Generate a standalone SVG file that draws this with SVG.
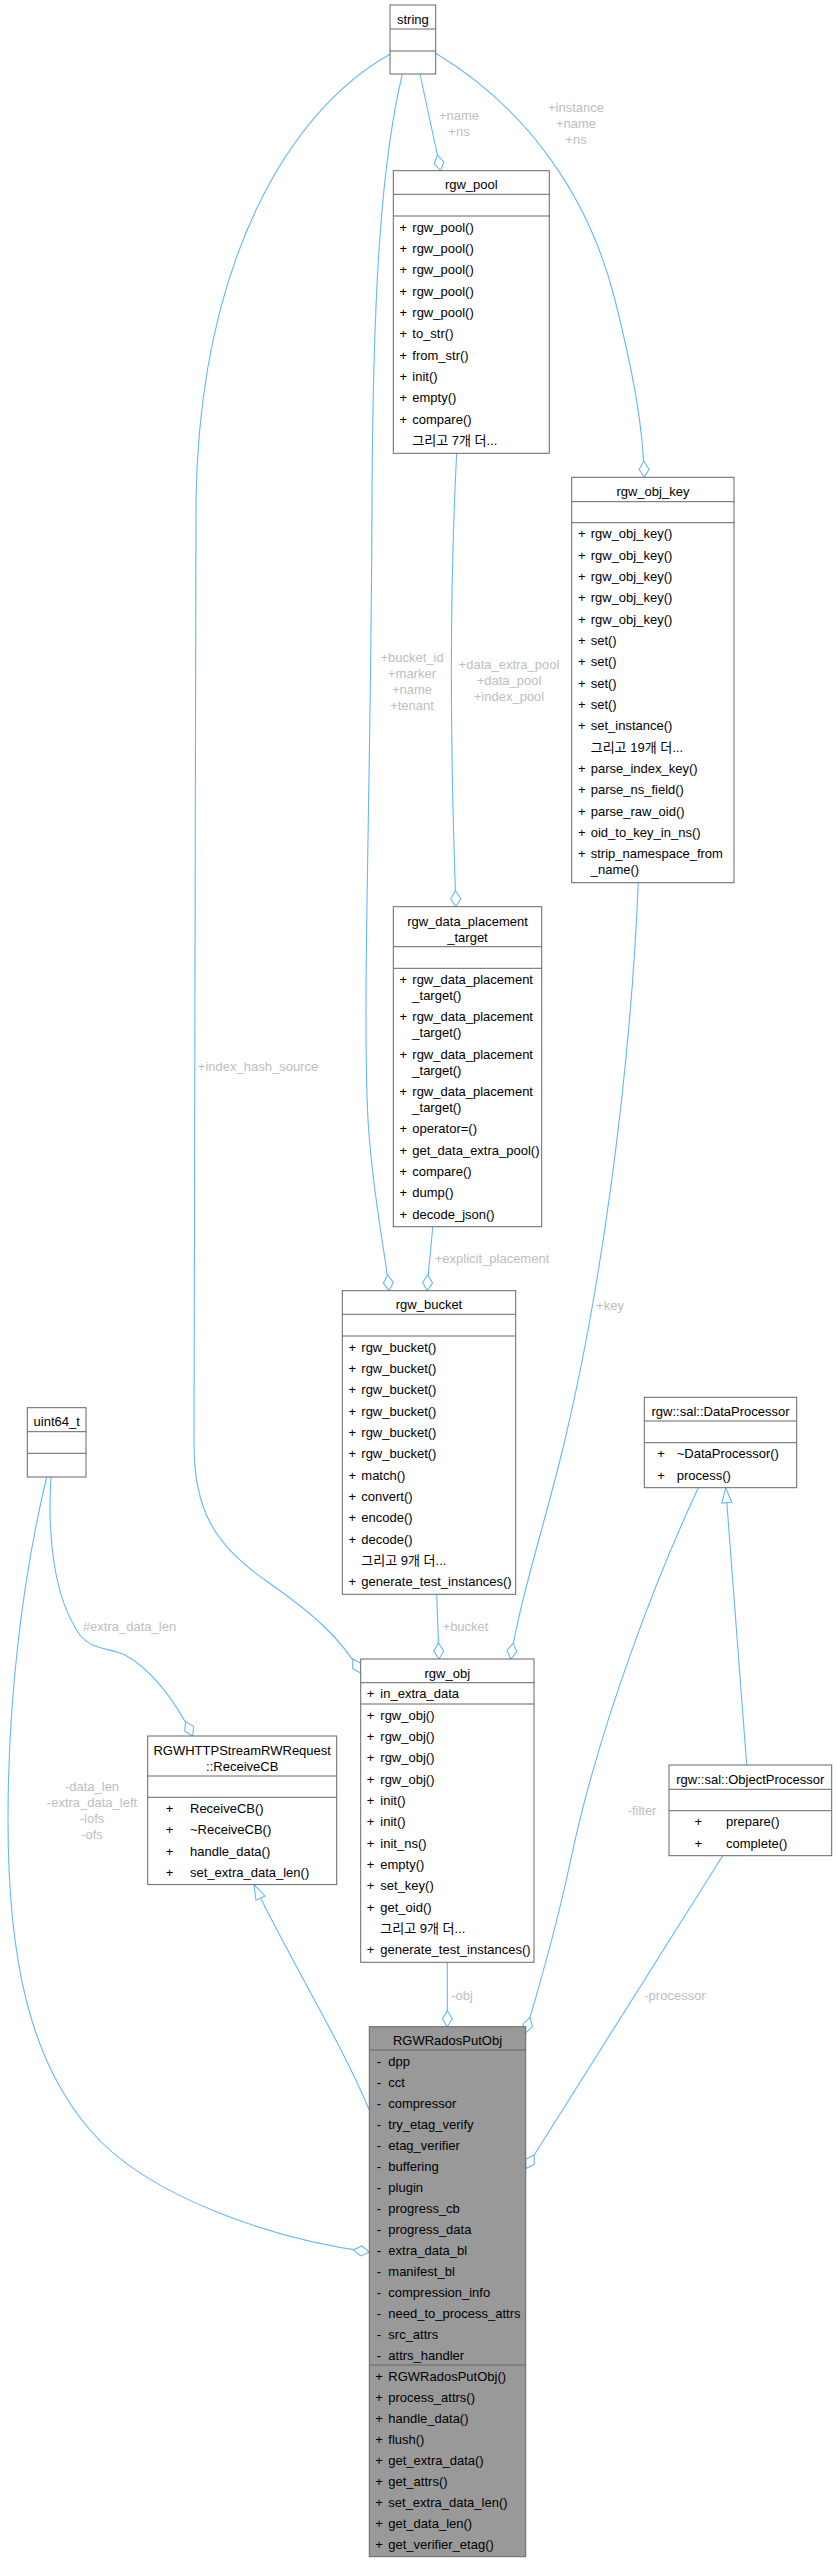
<svg xmlns="http://www.w3.org/2000/svg" width="837" height="2571" viewBox="0 0 837 2571">
<style>
text{font-family:"Liberation Sans","Noto Sans CJK KR",Arial,sans-serif;font-size:13px;fill:#000}
.box{fill:#fff;stroke:#666;stroke-width:1}
.hl{fill:#999;stroke:#666;stroke-width:1}
.sep{stroke:#666;stroke-width:1}
.t{text-anchor:middle}
.s{text-anchor:middle}
.e path{fill:none;stroke:#63B8FF;stroke-width:1.1}
.lbl{fill:#bebebe;text-anchor:middle}
</style>
<defs>
<marker id="dia" viewBox="-1 -6 18 12" markerWidth="18" markerHeight="12" refX="16" refY="0" orient="auto" markerUnits="userSpaceOnUse"><path d="M0,0 L8,-5 L16,0 L8,5 Z" fill="#fff" stroke="#63B8FF" stroke-width="1.1"/></marker>
<marker id="tri" viewBox="-1 -6 17 12" markerWidth="17" markerHeight="12" refX="15" refY="0" orient="auto" markerUnits="userSpaceOnUse"><path d="M0,-5 L15,0 L0,5 Z" fill="#fff" stroke="#63B8FF" stroke-width="1.1"/></marker>
</defs>
<rect width="837" height="2571" fill="#fff"/>

<g id="edges" class="e">
<path d="M420,74 L440.7,170.7" marker-end="url(#dia)"/>
<path d="M435.7,53.3 C530,110 590,200 615,300 C635,380 643,430 644.3,477.3" marker-end="url(#dia)"/>
<path d="M402.3,74 C382,160 373,280 372,500 C371,800 362,1000 368,1120 C373,1200 386,1255 389,1290.7" marker-end="url(#dia)"/>
<path d="M456.7,453.3 C448,620 452,800 456,906.7" marker-end="url(#dia)"/>
<path d="M432.7,1226.7 C431,1250 428,1270 427.3,1290.7" marker-end="url(#dia)"/>
<path d="M390,54.3 C290,110 200,260 196,500 L194,1440 C193,1510 215,1545 265,1580 C305,1608 340,1635 360.7,1673" marker-end="url(#dia)"/>
<path d="M436.7,1594.3 L439,1659" marker-end="url(#dia)"/>
<path d="M638.3,882.7 C630,1080 600,1300 560,1460 C540,1540 520,1600 510.7,1659" marker-end="url(#dia)"/>
<path d="M51,1477 C47,1540 55,1600 80,1635 C92,1650 110,1648 125,1655 C150,1668 175,1700 192.7,1736" marker-end="url(#dia)"/>
<path d="M46.7,1477 C22,1580 8,1700 8,1820 C8,1960 30,2060 90,2130 C150,2200 280,2240 369.3,2252" marker-end="url(#dia)"/>
<path d="M369.3,2110 C340,2040 290,1960 254,1884.6" marker-end="url(#tri)"/>
<path d="M447.3,1962.3 L447.3,2026.7" marker-end="url(#dia)"/>
<path d="M698.3,1487.7 C660,1570 600,1720 570,1863 C555,1935 535,2000 525.5,2033" marker-end="url(#dia)"/>
<path d="M722.7,1855.7 L525.7,2168.5" marker-end="url(#dia)"/>
<path d="M746.7,1765 L725.7,1487.7" marker-end="url(#tri)"/>
</g>

<g id="edge-labels">
<text class="lbl" x="459" y="119.7">+name</text>
<text class="lbl" x="459" y="135.7">+ns</text>
<text class="lbl" x="576" y="111.7">+instance</text>
<text class="lbl" x="576" y="127.7">+name</text>
<text class="lbl" x="576" y="143.7">+ns</text>
<text class="lbl" x="412" y="661.7">+bucket_id</text>
<text class="lbl" x="412" y="677.7">+marker</text>
<text class="lbl" x="412" y="693.7">+name</text>
<text class="lbl" x="412" y="709.7">+tenant</text>
<text class="lbl" x="509" y="668.7">+data_extra_pool</text>
<text class="lbl" x="509" y="684.7">+data_pool</text>
<text class="lbl" x="509" y="700.7">+index_pool</text>
<text class="lbl" x="492" y="1262.7">+explicit_placement</text>
<text class="lbl" x="258" y="1071.4">+index_hash_source</text>
<text class="lbl" x="465.5" y="1631.4">+bucket</text>
<text class="lbl" x="610" y="1309.7">+key</text>
<text class="lbl" x="129.5" y="1631.4">#extra_data_len</text>
<text class="lbl" x="92" y="1791.4">-data_len</text>
<text class="lbl" x="92" y="1807.4">-extra_data_left</text>
<text class="lbl" x="92" y="1823.4">-lofs</text>
<text class="lbl" x="92" y="1839.4">-ofs</text>
<text class="lbl" x="462" y="1999.7">-obj</text>
<text class="lbl" x="642" y="1815.4">-filter</text>
<text class="lbl" x="675" y="1999.7">-processor</text>
</g>

<g id="string">
<rect class="box" x="390" y="5" width="45.7" height="69"/>
<line class="sep" x1="390" y1="29" x2="435.7" y2="29"/>
<line class="sep" x1="390" y1="51" x2="435.7" y2="51"/>
<text class="t" x="412.9" y="23.5">string</text>
</g>

<g id="rgw_pool">
<rect class="box" x="393.3" y="170.7" width="156" height="282.6"/>
<line class="sep" x1="393.3" y1="194.3" x2="549.3" y2="194.3"/>
<line class="sep" x1="393.3" y1="216" x2="549.3" y2="216"/>
<text class="t" x="471.3" y="189.3">rgw_pool</text>
<g class="s">
<text x="403.3" y="231.7">+</text><text x="403.3" y="253">+</text><text x="403.3" y="274.4">+</text><text x="403.3" y="295.7">+</text><text x="403.3" y="317">+</text><text x="403.3" y="338.4">+</text><text x="403.3" y="359.7">+</text><text x="403.3" y="381">+</text><text x="403.3" y="402.3">+</text><text x="403.3" y="423.7">+</text>
</g>
<text x="412.3" y="231.7">rgw_pool()</text>
<text x="412.3" y="253">rgw_pool()</text>
<text x="412.3" y="274.4">rgw_pool()</text>
<text x="412.3" y="295.7">rgw_pool()</text>
<text x="412.3" y="317">rgw_pool()</text>
<text x="412.3" y="338.4">to_str()</text>
<text x="412.3" y="359.7">from_str()</text>
<text x="412.3" y="381">init()</text>
<text x="412.3" y="402.3">empty()</text>
<text x="412.3" y="423.7">compare()</text>
<text x="412.3" y="445">그리고 7개 더...</text>
</g>

<g id="rgw_obj_key">
<rect class="box" x="571.7" y="477.3" width="162.3" height="405.4"/>
<line class="sep" x1="571.7" y1="501.7" x2="734" y2="501.7"/>
<line class="sep" x1="571.7" y1="522.7" x2="734" y2="522.7"/>
<text class="t" x="652.9" y="495.8">rgw_obj_key</text>
<g class="s">
<text x="581.7" y="538.4">+</text><text x="581.7" y="559.7">+</text><text x="581.7" y="581.1">+</text><text x="581.7" y="602.4">+</text><text x="581.7" y="623.7">+</text><text x="581.7" y="645.1">+</text><text x="581.7" y="666.4">+</text><text x="581.7" y="687.7">+</text><text x="581.7" y="709">+</text><text x="581.7" y="730.4">+</text><text x="581.7" y="773">+</text><text x="581.7" y="794.4">+</text><text x="581.7" y="815.7">+</text><text x="581.7" y="837">+</text><text x="581.7" y="858.4">+</text>
</g>
<text x="590.7" y="538.4">rgw_obj_key()</text>
<text x="590.7" y="559.7">rgw_obj_key()</text>
<text x="590.7" y="581.1">rgw_obj_key()</text>
<text x="590.7" y="602.4">rgw_obj_key()</text>
<text x="590.7" y="623.7">rgw_obj_key()</text>
<text x="590.7" y="645.1">set()</text>
<text x="590.7" y="666.4">set()</text>
<text x="590.7" y="687.7">set()</text>
<text x="590.7" y="709">set()</text>
<text x="590.7" y="730.4">set_instance()</text>
<text x="590.7" y="751.7">그리고 19개 더...</text>
<text x="590.7" y="773">parse_index_key()</text>
<text x="590.7" y="794.4">parse_ns_field()</text>
<text x="590.7" y="815.7">parse_raw_oid()</text>
<text x="590.7" y="837">oid_to_key_in_ns()</text>
<text x="590.7" y="858.4">strip_namespace_from</text>
<text x="590.7" y="874.4">_name()</text>
</g>

<g id="rgw_data_placement_target">
<rect class="box" x="393.3" y="906.7" width="148.4" height="320"/>
<line class="sep" x1="393.3" y1="946.7" x2="541.7" y2="946.7"/>
<line class="sep" x1="393.3" y1="968.3" x2="541.7" y2="968.3"/>
<text class="t" x="467.5" y="925.5">rgw_data_placement</text>
<text class="t" x="467.5" y="941.5">_target</text>
<g class="s">
<text x="403.3" y="984">+</text><text x="403.3" y="1021.3">+</text><text x="403.3" y="1058.7">+</text><text x="403.3" y="1096">+</text><text x="403.3" y="1133.3">+</text><text x="403.3" y="1154.6">+</text><text x="403.3" y="1176">+</text><text x="403.3" y="1197.3">+</text><text x="403.3" y="1218.6">+</text>
</g>
<text x="412.3" y="984">rgw_data_placement</text>
<text x="412.3" y="1000">_target()</text>
<text x="412.3" y="1021.3">rgw_data_placement</text>
<text x="412.3" y="1037.3">_target()</text>
<text x="412.3" y="1058.7">rgw_data_placement</text>
<text x="412.3" y="1074.7">_target()</text>
<text x="412.3" y="1096">rgw_data_placement</text>
<text x="412.3" y="1112">_target()</text>
<text x="412.3" y="1133.3">operator=()</text>
<text x="412.3" y="1154.6">get_data_extra_pool()</text>
<text x="412.3" y="1176">compare()</text>
<text x="412.3" y="1197.3">dump()</text>
<text x="412.3" y="1218.6">decode_json()</text>
</g>

<g id="rgw_bucket">
<rect class="box" x="342.3" y="1290.7" width="173.4" height="303.6"/>
<line class="sep" x1="342.3" y1="1314.3" x2="515.7" y2="1314.3"/>
<line class="sep" x1="342.3" y1="1336" x2="515.7" y2="1336"/>
<text class="t" x="429" y="1309.2">rgw_bucket</text>
<g class="s">
<text x="352.3" y="1351.7">+</text><text x="352.3" y="1373">+</text><text x="352.3" y="1394.4">+</text><text x="352.3" y="1415.7">+</text><text x="352.3" y="1437">+</text><text x="352.3" y="1458.4">+</text><text x="352.3" y="1479.7">+</text><text x="352.3" y="1501">+</text><text x="352.3" y="1522.3">+</text><text x="352.3" y="1543.7">+</text><text x="352.3" y="1586.3">+</text>
</g>
<text x="361.3" y="1351.7">rgw_bucket()</text>
<text x="361.3" y="1373">rgw_bucket()</text>
<text x="361.3" y="1394.4">rgw_bucket()</text>
<text x="361.3" y="1415.7">rgw_bucket()</text>
<text x="361.3" y="1437">rgw_bucket()</text>
<text x="361.3" y="1458.4">rgw_bucket()</text>
<text x="361.3" y="1479.7">match()</text>
<text x="361.3" y="1501">convert()</text>
<text x="361.3" y="1522.3">encode()</text>
<text x="361.3" y="1543.7">decode()</text>
<text x="361.3" y="1565">그리고 9개 더...</text>
<text x="361.3" y="1586.3">generate_test_instances()</text>
</g>

<g id="rgw_obj">
<rect class="box" x="360.7" y="1659" width="173.3" height="303.3"/>
<line class="sep" x1="360.7" y1="1682.7" x2="534" y2="1682.7"/>
<line class="sep" x1="360.7" y1="1704" x2="534" y2="1704"/>
<text class="t" x="447.3" y="1677.5">rgw_obj</text>
<g class="s">
<text x="370.5" y="1698.4">+</text>
<text x="370.5" y="1719.7">+</text><text x="370.5" y="1741">+</text><text x="370.5" y="1762.4">+</text><text x="370.5" y="1783.7">+</text><text x="370.5" y="1805">+</text><text x="370.5" y="1826.4">+</text><text x="370.5" y="1847.7">+</text><text x="370.5" y="1869">+</text><text x="370.5" y="1890.3">+</text><text x="370.5" y="1911.7">+</text><text x="370.5" y="1954.3">+</text>
</g>
<text x="380.3" y="1698.4">in_extra_data</text>
<text x="380.3" y="1719.7">rgw_obj()</text>
<text x="380.3" y="1741">rgw_obj()</text>
<text x="380.3" y="1762.4">rgw_obj()</text>
<text x="380.3" y="1783.7">rgw_obj()</text>
<text x="380.3" y="1805">init()</text>
<text x="380.3" y="1826.4">init()</text>
<text x="380.3" y="1847.7">init_ns()</text>
<text x="380.3" y="1869">empty()</text>
<text x="380.3" y="1890.3">set_key()</text>
<text x="380.3" y="1911.7">get_oid()</text>
<text x="380.3" y="1933">그리고 9개 더...</text>
<text x="380.3" y="1954.3">generate_test_instances()</text>
</g>

<g id="uint64_t">
<rect class="box" x="27.3" y="1407.7" width="58.7" height="69.3"/>
<line class="sep" x1="27.3" y1="1431.7" x2="86" y2="1431.7"/>
<line class="sep" x1="27.3" y1="1453.3" x2="86" y2="1453.3"/>
<text class="t" x="56.7" y="1426.2">uint64_t</text>
</g>

<g id="ReceiveCB">
<rect class="box" x="147.7" y="1736" width="189" height="148.6"/>
<line class="sep" x1="147.7" y1="1776" x2="336.7" y2="1776"/>
<line class="sep" x1="147.7" y1="1797.3" x2="336.7" y2="1797.3"/>
<text class="t" x="242.2" y="1754.5">RGWHTTPStreamRWRequest</text>
<text class="t" x="242.2" y="1770.5">::ReceiveCB</text>
<g class="s">
<text x="169.5" y="1813">+</text><text x="169.5" y="1834.3">+</text><text x="169.5" y="1855.7">+</text><text x="169.5" y="1877">+</text>
</g>
<text x="190" y="1813">ReceiveCB()</text>
<text x="190" y="1834.3">~ReceiveCB()</text>
<text x="190" y="1855.7">handle_data()</text>
<text x="190" y="1877">set_extra_data_len()</text>
</g>

<g id="DataProcessor">
<rect class="box" x="644.3" y="1397.3" width="152.4" height="90.4"/>
<line class="sep" x1="644.3" y1="1421" x2="796.7" y2="1421"/>
<line class="sep" x1="644.3" y1="1442.7" x2="796.7" y2="1442.7"/>
<text class="t" x="720.5" y="1415.8">rgw::sal::DataProcessor</text>
<g class="s"><text x="661" y="1458.4">+</text><text x="661" y="1479.7">+</text></g>
<text x="676.7" y="1458.4">~DataProcessor()</text>
<text x="676.7" y="1479.7">process()</text>
</g>

<g id="ObjectProcessor">
<rect class="box" x="669" y="1765" width="162.7" height="90.7"/>
<line class="sep" x1="669" y1="1789.3" x2="831.7" y2="1789.3"/>
<line class="sep" x1="669" y1="1810.7" x2="831.7" y2="1810.7"/>
<text class="t" x="750.3" y="1783.5">rgw::sal::ObjectProcessor</text>
<g class="s"><text x="698.3" y="1826.4">+</text><text x="698.3" y="1847.7">+</text></g>
<text x="726" y="1826.4">prepare()</text>
<text x="726" y="1847.7">complete()</text>
</g>

<g id="RGWRadosPutObj">
<rect class="hl" x="369.3" y="2026.7" width="156.4" height="530"/>
<line class="sep" x1="369.3" y1="2050" x2="525.7" y2="2050"/>
<line class="sep" x1="369.3" y1="2365" x2="525.7" y2="2365"/>
<text class="t" x="447.5" y="2045">RGWRadosPutObj</text>
<g class="s">
<text x="379" y="2065.7">-</text><text x="379" y="2086.7">-</text><text x="379" y="2107.7">-</text><text x="379" y="2128.7">-</text><text x="379" y="2149.7">-</text><text x="379" y="2170.7">-</text><text x="379" y="2191.7">-</text><text x="379" y="2212.7">-</text><text x="379" y="2233.7">-</text><text x="379" y="2254.7">-</text><text x="379" y="2275.7">-</text><text x="379" y="2296.7">-</text><text x="379" y="2317.7">-</text><text x="379" y="2338.7">-</text><text x="379" y="2359.7">-</text>
<text x="379" y="2380.7">+</text><text x="379" y="2401.7">+</text><text x="379" y="2422.7">+</text><text x="379" y="2443.7">+</text><text x="379" y="2464.7">+</text><text x="379" y="2485.7">+</text><text x="379" y="2506.7">+</text><text x="379" y="2527.7">+</text><text x="379" y="2548.7">+</text>
</g>
<text x="388.3" y="2065.7">dpp</text>
<text x="388.3" y="2086.7">cct</text>
<text x="388.3" y="2107.7">compressor</text>
<text x="388.3" y="2128.7">try_etag_verify</text>
<text x="388.3" y="2149.7">etag_verifier</text>
<text x="388.3" y="2170.7">buffering</text>
<text x="388.3" y="2191.7">plugin</text>
<text x="388.3" y="2212.7">progress_cb</text>
<text x="388.3" y="2233.7">progress_data</text>
<text x="388.3" y="2254.7">extra_data_bl</text>
<text x="388.3" y="2275.7">manifest_bl</text>
<text x="388.3" y="2296.7">compression_info</text>
<text x="388.3" y="2317.7">need_to_process_attrs</text>
<text x="388.3" y="2338.7">src_attrs</text>
<text x="388.3" y="2359.7">attrs_handler</text>
<text x="388.3" y="2380.7">RGWRadosPutObj()</text>
<text x="388.3" y="2401.7">process_attrs()</text>
<text x="388.3" y="2422.7">handle_data()</text>
<text x="388.3" y="2443.7">flush()</text>
<text x="388.3" y="2464.7">get_extra_data()</text>
<text x="388.3" y="2485.7">get_attrs()</text>
<text x="388.3" y="2506.7">set_extra_data_len()</text>
<text x="388.3" y="2527.7">get_data_len()</text>
<text x="388.3" y="2548.7">get_verifier_etag()</text>
</g>
</svg>
